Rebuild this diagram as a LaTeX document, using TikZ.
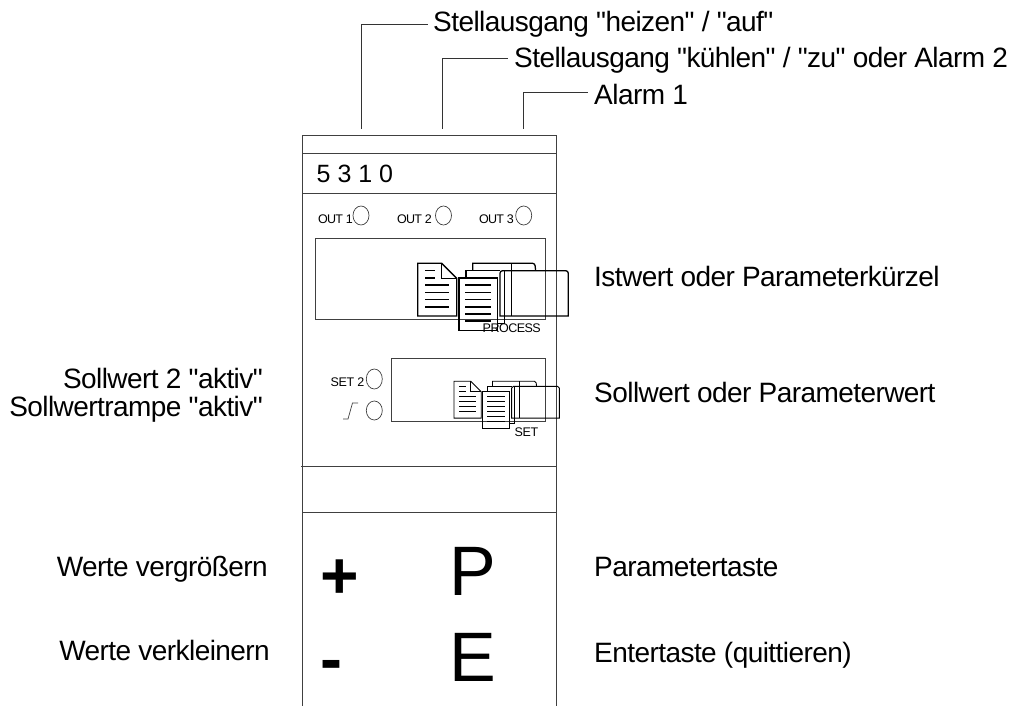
\documentclass[tikz,border=0pt]{standalone}
\usepackage{fontspec}
\setmainfont[Ligatures=TeXOff]{Liberation Sans}
\newcommand{\iconart}[2]{%
\begin{scope}[shift={#1},x=0.3333pt,y=-0.3333pt,line width=#2]
 \draw[line join=miter] (53,100)--(125,100)--(170,145)--(170,258)--(53,258)--cycle;
 \draw (125,100)--(125,145)--(170,145);
 \foreach \y in {122,144} \draw (75,\y)--(105,\y);
 \foreach \y in {165,187,209,231} \draw (75,\y)--(148,\y);
 \draw (218,122)--(218,100)--(398,100) to[out=0,in=100] (407,122);
 \draw (335,122)--(335,100);
 \draw (198,144)--(198,122)--(300,122);
 \draw (292,280)--(313,280)--(313,124);
 \draw (300,258)--(300,130) to[out=90,in=180] (308,122)--(497,122) to[out=0,in=90] (505,130)--(505,258)--cycle;
 \draw (335,122)--(335,258);
 \draw (177,144) rectangle (292,302);
 \foreach \y in {165,187,209,231,252,273} \draw (196,\y)--(272,\y);
\end{scope}}
\newcommand{\fs}{\fontsize{28}{28}\selectfont\addfontfeatures{LetterSpace=-2}}
\tikzset{
 frame/.style={draw=black!75,line width=0.7pt},
 lead/.style={draw=black!80,line width=0.7pt},
 label/.style={inner sep=0pt,anchor=base west},
 labelr/.style={inner sep=0pt,anchor=base east},
 tiny/.style={inner sep=0pt,font=\fontsize{12.5}{13}\selectfont,anchor=base west},
 key/.style={inner sep=0pt,anchor=base,font=\fontsize{70}{70}\selectfont},
 sign/.style={inner sep=0pt,anchor=base,font=\bfseries\fontsize{66}{70}\selectfont},
}
\begin{document}
\begin{tikzpicture}[x=1pt,y=-1pt]
\useasboundingbox (0,0) rectangle (1013,706);
% top labels and leads
\node[label] (s1) at (433,32) {\fs Stellausgang "heizen" / "auf"};
\node[label] (s2) at (514,68) {\fs Stellausgang "kühlen" / "zu" oder Alarm 2};
\node[label] (s3) at (594,105) {\fs Alarm 1};
\coordinate (p1) at (361,129);
\coordinate (p2) at (442.5,129);
\coordinate (p3) at (523.5,129);
\coordinate (e1) at (427.5,24);
\coordinate (e2) at (508,58.5);
\coordinate (e3) at (588,92.5);
\draw[lead] (p1)|-(e1);
\draw[lead] (p2)|-(e2);
\draw[lead] (p3)|-(e3);
% housing
\draw[frame] (302,706)--(302,135.5)--(556.5,135.5)--(556.5,706);
\draw[frame] (302,153.5)--(556.5,153.5);
\draw[frame] (302,193)--(556.5,193);
\draw[frame] (301,466.5)--(556.5,466.5);
\draw[frame] (302,512)--(556.5,512);
\node[inner sep=0pt,anchor=base west,font=\fontsize{25}{25}\selectfont] (num) at (316.5,182.5) {5 3 1 0};
% out LEDs
\node[tiny] (o1) at (318,224) {\addfontfeatures{LetterSpace=-6}OUT 1};
\node[tiny] (o2) at (397,224) {\addfontfeatures{LetterSpace=-6}OUT 2};
\node[tiny] (o3) at (479,224) {\addfontfeatures{LetterSpace=-6}OUT 3};
\draw[frame] (361,215.5) ellipse (8pt and 9.5pt);
\draw[frame] (443.5,215.5) ellipse (8pt and 9.5pt);
\draw[frame] (523.7,215.5) ellipse (8pt and 9.5pt);
% displays
\draw[frame] (315,238) rectangle (545,319);
\iconart{(400,230)}{1.3pt}
\node[tiny] (pr) at (482.5,332) {\addfontfeatures{LetterSpace=-4}PROCESS};
\draw[frame] (391,358.5) rectangle (545,421.5);
\begin{scope}[shift={(454,381)},scale=0.7,shift={(-417.7,-263)}]
\iconart{(400,230)}{0.9pt}
\end{scope}
\node[tiny] (se) at (514.5,436.5) {\addfontfeatures{LetterSpace=-3}SET};
\node[tiny] (se2) at (330.5,386.5) {\addfontfeatures{LetterSpace=-3}SET 2};
\draw[frame] (374.3,379) ellipse (8pt and 10pt);
\draw[frame] (374.3,410.5) ellipse (8pt and 9.5pt);
\draw[frame] (343,419)--(348,419)--(352.5,403)--(358,403);
% right labels
\node[label] (r1) at (594,287) {\fs Istwert oder Parameterkürzel};
\node[label] (r2) at (594,402) {\fs Sollwert oder Parameterwert};
\node[label] (r3) at (594,576) {\fs Parametertaste};
\node[label] (r4) at (594,662.5) {\fs Entertaste (quittieren)};
% left labels
\node[labelr] (l1) at (263,388) {\fs Sollwert 2 "aktiv"};
\node[labelr] (l2) at (263,416) {\fs Sollwertrampe "aktiv"};
\node[labelr] (l3) at (268,576) {\fs Werte vergrößern};
\node[labelr] (l4) at (270,660.5) {\fs Werte verkleinern};
% keys
\node[key] (kp) at (473,595) {P};
\node[key] (ke) at (473,681) {E};
\node[sign] (kplus) at (340,598) {+};
\node[sign] (kminus) at (331.5,681) {-};
\end{tikzpicture}
\end{document}
